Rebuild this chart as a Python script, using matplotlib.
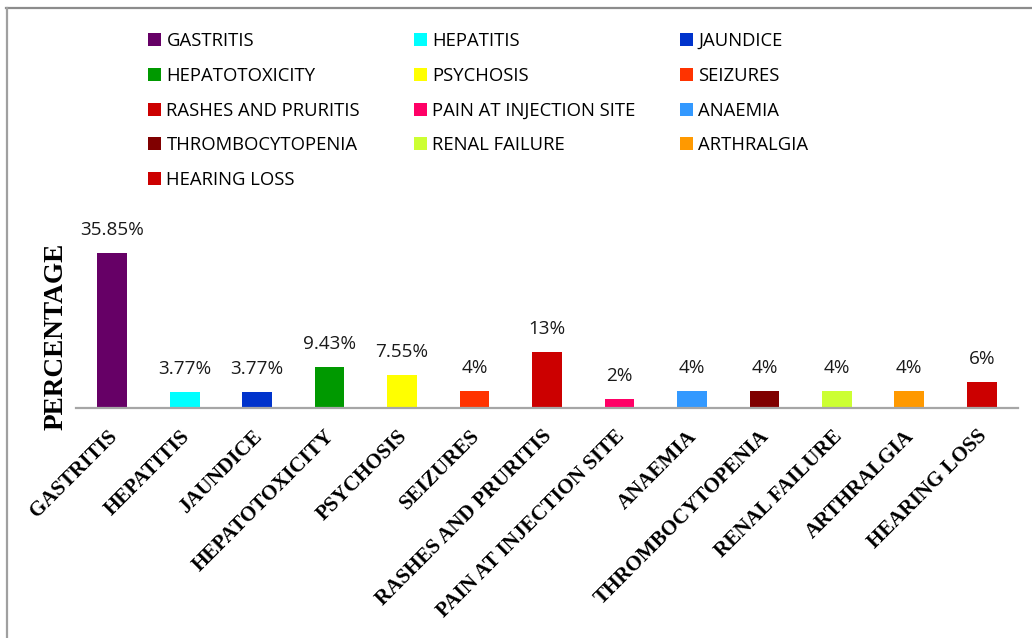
import matplotlib
matplotlib.use("Agg")
import matplotlib.pyplot as plt
from matplotlib.patches import Patch
from matplotlib.lines import Line2D
from matplotlib.transforms import ScaledTranslation

categories = ["GASTRITIS", "HEPATITIS", "JAUNDICE", "HEPATOTOXICITY", "PSYCHOSIS",
              "SEIZURES", "RASHES AND PRURITIS", "PAIN AT INJECTION SITE", "ANAEMIA",
              "THROMBOCYTOPENIA", "RENAL FAILURE", "ARTHRALGIA", "HEARING LOSS"]
percentages = [35.85, 3.77, 3.77, 9.43, 7.55, 4, 13, 2, 4, 4, 4, 4, 6]
colors = ["#660066", "#00FFFF", "#0033CC", "#009900", "#FFFF00", "#FF3300",
          "#CC0000", "#FF0066", "#3399FF", "#800000", "#CCFF33", "#FF9900", "#CC0000"]

W, H = 1032, 638
fig = plt.figure(figsize=(W / 100, H / 100), dpi=100)

# plot area in pixel terms
left, right, base, top = 76, 1018, 408, 235
ax = fig.add_axes([left / W, (H - base) / H, (right - left) / W, (base - top) / H])

x = list(range(len(categories)))
bars = ax.bar(x, percentages, width=0.41, color=colors, zorder=2)
ax.set_xlim(-0.5, len(categories) - 0.5)
ax.set_ylim(0, 40)

for xi, v in zip(x, percentages):
    ax.annotate(f"{v:g}%", (xi, v), xytext=(0, 13), textcoords="offset points",
                ha="center", va="baseline", fontsize=13.6, family="Open Sans",
                color="#1a1a1a")

for s in ["left", "right", "top"]:
    ax.spines[s].set_visible(False)
ax.spines["bottom"].set_color("#a6a6a6")
ax.spines["bottom"].set_linewidth(1.6)
ax.set_yticks([])
ax.set_xticks(x)
ax.set_xticklabels(categories, rotation=45, ha="right", rotation_mode="anchor",
                   fontsize=15.1, family="Liberation Serif", fontweight="bold")
ax.tick_params(axis="x", length=0, pad=6)
shift = ScaledTranslation(-0.05, -0.10, fig.dpi_scale_trans)
for lbl in ax.get_xticklabels():
    lbl.set_transform(lbl.get_transform() + shift)

fig.text(56 / W, 1 - 336 / H, "PERCENTAGE", rotation=90, ha="center", va="center",
         fontsize=19.6, family="Liberation Serif", fontweight="bold")

# legend, filled row by row in three columns
handles = [Patch(facecolor=c, edgecolor="none") for c in colors]
col_x = [148, 414, 680]
for ci in range(3):
    idx = list(range(ci, len(categories), 3))
    fig.legend([handles[i] for i in idx], [categories[i] for i in idx],
               loc="upper left", bbox_to_anchor=(col_x[ci] / W, 1 - 32 / H),
               frameon=False, prop={"family": "Open Sans", "size": 13.3},
               handlelength=0.7, handleheight=0.7, handletextpad=0.3,
               labelspacing=0.91, borderpad=0, borderaxespad=0)

# outer chart border (top and left edges)
fig.add_artist(Line2D([6 / W, 1], [1 - 7.5 / H, 1 - 7.5 / H], color="#8c8c8c", lw=1.6))
fig.add_artist(Line2D([6.5 / W, 6.5 / W], [0, 1 - 7.5 / H], color="#a0a0a0", lw=1.6))

fig.savefig("out.png", dpi=100)
